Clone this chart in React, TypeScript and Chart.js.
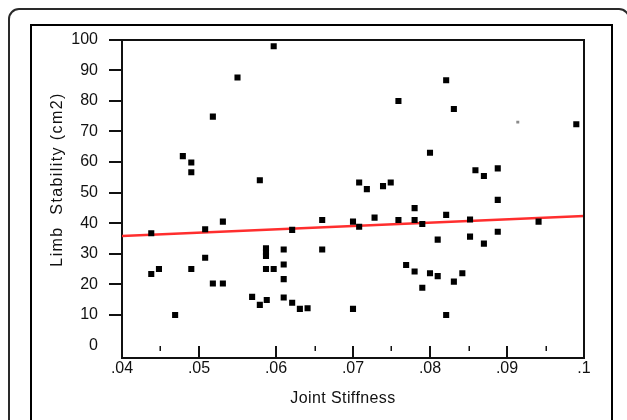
import React, { useEffect, useRef } from "react";
import { Chart, registerables } from "chart.js";

Chart.register(...registerables);

// Joint stiffness (x) and limb stability (y) of each subject
const STIFFNESS = [
  0.0438, 0.0438, 0.0448, 0.0469, 0.0479, 0.049, 0.049, 0.049, 0.0508, 0.0508,
  0.0518, 0.0518, 0.0531, 0.0531, 0.055, 0.0569, 0.0579, 0.0579, 0.0587, 0.0587,
  0.0587, 0.0587, 0.0588, 0.0597, 0.0597, 0.061, 0.061, 0.061, 0.061, 0.0621,
  0.0621, 0.0631, 0.0641, 0.066, 0.066, 0.07, 0.07, 0.0708, 0.0708, 0.0718,
  0.0728, 0.0739, 0.0749, 0.0759, 0.0759, 0.0769, 0.078, 0.078, 0.078, 0.079,
  0.079, 0.08, 0.08, 0.081, 0.081, 0.0821, 0.0821, 0.0821, 0.0831, 0.0831,
  0.0842, 0.0852, 0.0852, 0.0859, 0.087, 0.087, 0.0888, 0.0888, 0.0888, 0.0941,
  0.099,
];
const STABILITY = [
  36.7, 23.4, 25.0, 10.0, 61.9, 59.8, 56.6, 25.0, 38.0, 28.7,
  74.8, 20.3, 40.5, 20.3, 87.6, 15.9, 54.0, 13.3, 31.8, 30.5,
  29.3, 25.0, 14.9, 97.8, 25.0, 31.4, 26.5, 21.7, 15.7, 37.8,
  14.0, 12.0, 12.2, 41.0, 31.4, 40.5, 12.0, 53.3, 38.8, 51.1,
  41.8, 52.1, 53.3, 79.9, 41.0, 26.3, 44.9, 41.0, 24.2, 39.7,
  18.9, 63.0, 23.6, 34.6, 22.7, 86.7, 42.7, 10.0, 77.3, 20.9,
  23.6, 41.2, 35.6, 57.3, 55.4, 33.3, 57.9, 47.6, 37.2, 40.5,
  72.3,
];
// faint grey dot
const FAINT_X = [0.0914];
const FAINT_Y = [73.0];

// fitted regression line
const FIT_X = [0.04, 0.1];
const FIT_Y = [35.8, 42.3];

const X_MAJOR = [0.04, 0.05, 0.06, 0.07, 0.08, 0.09, 0.1];
const X_LABELS = [".04", ".05", ".06", ".07", ".08", ".09", ".1"];
const X_MINOR = [0.045, 0.065, 0.075, 0.085, 0.095];
const Y_TICKS = [0, 10, 20, 30, 40, 50, 60, 70, 80, 90, 100];

const X_TITLE = "Joint Stiffness";
const Y_TITLE = "Limb  Stability (cm2)";

const FONT = "'Liberation Sans', Arial, sans-serif";
const INK = "#111";

const framePlugin = {
  id: "frameAndTitles",
  afterDraw(chart: any) {
    const { ctx, chartArea } = chart;
    const xs = chart.scales.x;
    const { left, right, top, bottom } = chartArea;
    ctx.save();
    ctx.strokeStyle = INK;
    ctx.lineWidth = 2;
    ctx.lineCap = "butt";
    // top and right frame
    ctx.beginPath();
    ctx.moveTo(left - 1, Math.round(top));
    ctx.lineTo(Math.round(right), Math.round(top));
    ctx.lineTo(Math.round(right), bottom);
    ctx.stroke();
    // inward x ticks
    for (const v of X_MAJOR) {
      const px = Math.round(xs.getPixelForValue(v));
      ctx.beginPath();
      ctx.moveTo(px, bottom);
      ctx.lineTo(px, bottom - 11.5);
      ctx.stroke();
    }
    ctx.lineWidth = 1.5;
    for (const v of X_MINOR) {
      const px = Math.round(xs.getPixelForValue(v)) + 0.25;
      ctx.beginPath();
      ctx.moveTo(px, bottom - 6.5);
      ctx.lineTo(px, bottom - 11.5);
      ctx.stroke();
    }
    // axis titles
    ctx.fillStyle = INK;
    ctx.font = `16px ${FONT}`;
    ctx.textAlign = "center";
    ctx.textBaseline = "middle";
    (ctx as any).letterSpacing = "0.4px";
    ctx.fillText(X_TITLE, (left + right) / 2 - 10, bottom + 41);
    (ctx as any).letterSpacing = "1.4px";
    ctx.translate(58, (top + bottom) / 2 - 19);
    ctx.rotate(-Math.PI / 2);
    ctx.fillText(Y_TITLE, 0, 0);
    ctx.restore();
  },
};

export default function App() {
  const canvasRef = useRef<HTMLCanvasElement | null>(null);

  useEffect(() => {
    const canvas = canvasRef.current;
    if (!canvas) return;
    const points = STIFFNESS.map((x, i) => ({ x, y: STABILITY[i] }));
    const faint = FAINT_X.map((x, i) => ({ x, y: FAINT_Y[i] }));
    const fit = FIT_X.map((x, i) => ({ x, y: FIT_Y[i] }));

    const chart = new Chart(canvas, {
      type: "scatter",
      data: {
        datasets: [
          {
            data: points,
            pointStyle: "rect",
            pointRadius: 4.3,
            backgroundColor: "#000",
            borderWidth: 0,
          },
          {
            data: faint,
            pointStyle: "rect",
            pointRadius: 2.1,
            backgroundColor: "#8a8a8a",
            borderWidth: 0,
          },
          {
            type: "line",
            data: fit,
            borderColor: "#ff2e2e",
            borderWidth: 2.5,
            pointRadius: 0,
            fill: false,
          } as any,
        ],
      },
      options: {
        animation: false,
        responsive: true,
        maintainAspectRatio: false,
        layout: { padding: { top: 39.5, right: 43, left: 0, bottom: 0 } },
        plugins: {
          legend: { display: false },
          tooltip: { enabled: false },
        },
        scales: {
          x: {
            type: "linear",
            min: 0.04,
            max: 0.1,
            afterBuildTicks: (s: any) => {
              s.ticks = X_MAJOR.map((v) => ({ value: v }));
            },
            afterFit: (s: any) => {
              s.height = 420 - 357.5;
            },
            ticks: {
              autoSkip: false,
              maxRotation: 0,
              padding: 1,
              color: INK,
              font: { family: FONT, size: 16 },
              callback: (_v: any, i: number) => X_LABELS[i],
            },
            grid: { display: false, drawTicks: false },
            border: { display: true, color: INK, width: 2 },
          },
          y: {
            type: "linear",
            min: -3.9,
            max: 100,
            afterBuildTicks: (s: any) => {
              s.ticks = Y_TICKS.map((v) => ({ value: v }));
            },
            afterFit: (s: any) => {
              s.width = 122;
            },
            ticks: {
              autoSkip: false,
              padding: 11,
              color: INK,
              font: { family: FONT, size: 16 },
            },
            grid: {
              drawOnChartArea: false,
              drawTicks: true,
              tickLength: 13,
              lineWidth: 2,
              color: (c: any) =>
                c.tick && c.tick.value === 0 ? "rgba(0,0,0,0)" : INK,
            },
            border: { display: true, color: INK, width: 2 },
          },
        },
      },
      plugins: [framePlugin],
    } as any);

    return () => chart.destroy();
  }, []);

  return (
    <div
      style={{
        position: "fixed",
        left: 0,
        top: 0,
        width: 627,
        height: 420,
        overflow: "hidden",
        background: "#fff",
      }}
    >
      <div
        style={{
          position: "absolute",
          left: 8,
          top: 8,
          width: 622,
          height: 500,
          boxSizing: "border-box",
          border: "2px solid #2a2a2a",
          borderRadius: 11,
        }}
      />
      <div
        style={{
          position: "absolute",
          left: 30,
          top: 24,
          width: 583,
          height: 500,
          boxSizing: "border-box",
          border: "2px solid #000",
        }}
      />
      <div style={{ position: "absolute", left: 0, top: 0, width: 627, height: 420 }}>
        <canvas ref={canvasRef} style={{ display: "block" }} />
      </div>
    </div>
  );
}
